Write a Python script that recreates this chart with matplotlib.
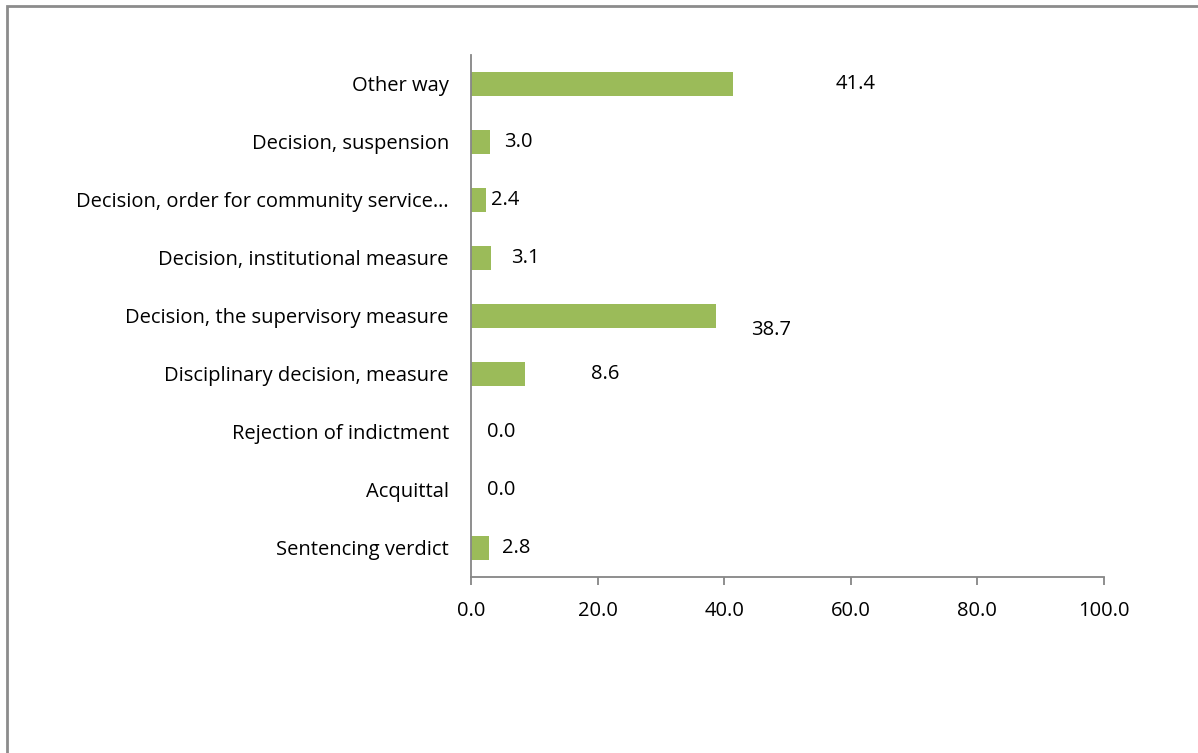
import matplotlib.pyplot as plt
from matplotlib.patches import Rectangle

# categories listed bottom to top, as drawn
categories = [
    "Sentencing verdict",
    "Acquittal",
    "Rejection of indictment",
    "Disciplinary decision, measure",
    "Decision, the supervisory measure",
    "Decision, institutional measure",
    "Decision, order for community service…",
    "Decision, suspension",
    "Other way",
]
values = [2.8, 0.0, 0.0, 8.6, 38.7, 3.1, 2.4, 3.0, 41.4]
label_text = ["2.8", "0.0", "0.0", "8.6", "38.7", "3.1", "2.4", "3.0", "41.4"]
# where Excel left the data labels (x in data units, y offset in categories)
label_x = [7.2, 4.7, 4.7, 21.2, 47.4, 8.6, 5.4, 7.5, 60.7]
label_dy = [0, 0, 0, 0, -0.24, 0, 0, 0, 0]

xticks = [0, 20, 40, 60, 80, 100]

plt.rcParams["font.family"] = ["Open Sans", "DejaVu Sans"]
AXIS_GREY = "#868686"
BAR_GREEN = "#9BBB59"
FS = 14.5

fig = plt.figure(figsize=(11.98, 7.53), dpi=100)
ax = fig.add_axes([471 / 1198, 1 - 577 / 753, (1104 - 471) / 1198, (577 - 55) / 753])

y = range(len(categories))
ax.barh(y, values, height=0.42, color=BAR_GREEN)
for i, (lx, dy, txt) in enumerate(zip(label_x, label_dy, label_text)):
    ax.text(lx, i + dy, txt, ha="center", va="center", fontsize=FS, color="black")

ax.set_xlim(0, 100)
ax.set_ylim(-0.5, len(categories) - 0.5)
ax.set_yticks(list(y))
ax.set_yticklabels(categories, fontsize=FS)
ax.set_xticks(xticks)
ax.set_xticklabels([f"{t:.1f}" for t in xticks], fontsize=FS)

for side in ("top", "right"):
    ax.spines[side].set_visible(False)
for side in ("left", "bottom"):
    ax.spines[side].set_color(AXIS_GREY)
    ax.spines[side].set_linewidth(1.3)
ax.tick_params(axis="y", length=0, pad=16)
ax.tick_params(axis="x", length=6, width=1.3, color=AXIS_GREY, pad=11)

# chart area border (only left and top are visible in the crop)
fig.patches.append(Rectangle((7 / 1198, -0.1), 1.2, 1 - 6 / 753 + 0.1,
                             transform=fig.transFigure, fill=False,
                             edgecolor="#8C8C8C", linewidth=2))

fig.savefig("out.png", dpi=100)
